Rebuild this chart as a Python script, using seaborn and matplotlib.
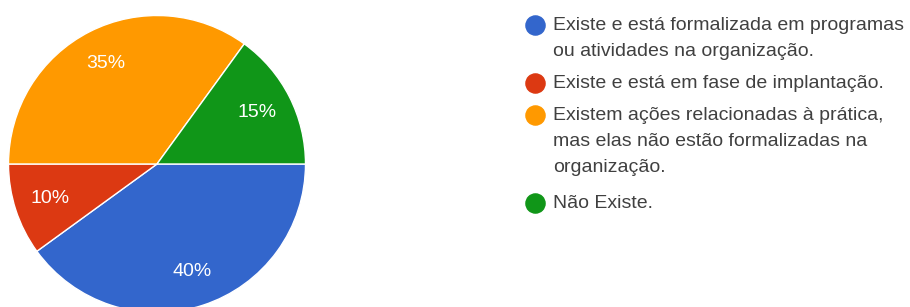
import matplotlib
matplotlib.use("Agg")
import matplotlib.pyplot as plt
import seaborn as sns

# Chart data
categories = [
    "Existe e está formalizada em programas\nou atividades na organização.",
    "Existe e está em fase de implantação.",
    "Existem ações relacionadas à prática,\nmas elas não estão formalizadas na\norganização.",
    "Não Existe.",
]
shares = [40, 10, 35, 15]
colors = ["#3366CC", "#DC3912", "#FF9900", "#109618"]

sns.set_theme(style="white")
plt.rcParams["font.family"] = ["Liberation Sans", "DejaVu Sans"]

W, H = 910, 307
fig = plt.figure(figsize=(W / 100, H / 100), dpi=100)
ax = fig.add_axes([0, 0, 1, 1])

# Pie chart, clockwise from 3 o'clock
ax.pie(shares, colors=colors, startangle=0, counterclock=False,
       center=(157, H - 164), radius=148.5,
       autopct="%d%%", pctdistance=0.76,
       wedgeprops=dict(edgecolor="white", linewidth=1),
       textprops=dict(color="white", fontsize=14))
ax.set_xlim(0, W)
ax.set_ylim(0, H)
ax.set_aspect("equal")
ax.axis("off")

# Legend drawn by hand
legend_y = [25, 83, 115, 203]
line_h = 26.5
for label, color, y in zip(categories, colors, legend_y):
    ax.scatter([535], [H - y], s=190, color=color, clip_on=False, zorder=5)
    for i, line in enumerate(label.split("\n")):
        ax.text(553, H - y - i * line_h, line, fontsize=14, color="#404040",
                va="center", ha="left")

fig.savefig("out.png", dpi=100)
